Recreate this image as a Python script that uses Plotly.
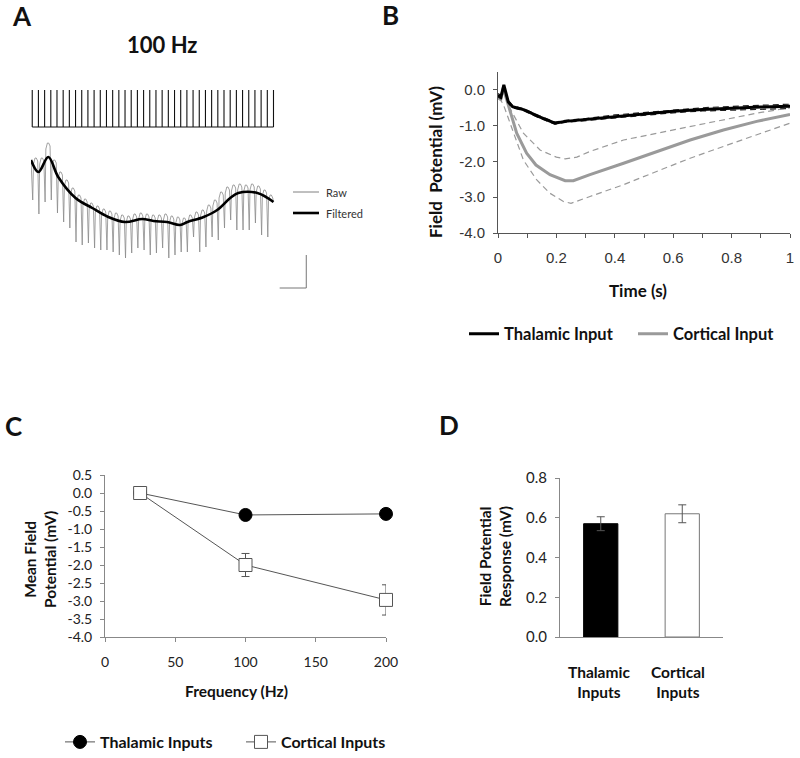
import plotly.graph_objects as go

W, H = 800, 758

# ---------------- Panel A data (time in ms, amplitude in arbitrary units) ----------------
stim_times_ms = [0, 10, 20, 30, 40, 50, 60, 70, 80, 90, 100, 110, 120, 130, 140, 150, 160, 170, 180, 190,
                 200, 210, 220, 230, 240, 250, 260, 270, 280, 290, 300, 310, 320, 330, 340, 350, 360, 370, 380, 390]
spike_times_ms = [0, 10, 20, 30, 40, 50, 60, 70, 80, 90, 100, 110, 120, 130, 140, 150, 160, 170, 180, 190,
                  200, 210, 220, 230, 240, 250, 260, 270, 280, 290, 300, 310, 320, 330, 340, 350, 360, 370, 380]
spike_min = [-40, -54, -42, -40, -53, -62, -68, -82, -85, -83, -88, -90, -90, -92, -95, -98, -93, -88, -90, -95,
             -93, -88, -98, -95, -92, -92, -77, -92, -87, -77, -80, -68, -60, -70, -70, -70, -63, -75, -77]
bump_top = [2, 2, 17, 0, -12, -20, -28, -35, -39, -43, -46, -49, -51, -53, -55, -56, -54, -53, -54, -55,
            -55, -54, -56, -57, -58, -55, -52, -50, -45, -40, -32, -27, -25, -24, -25, -24, -26, -30, -35]
filt_t = [-2, 10, 26, 42, 70, 97, 123, 150, 178, 196, 218, 239, 251, 277, 299, 320, 333, 364, 390]
filt_v = [0, -12, 3, -17, -38, -48, -57, -62, -59, -61, -62, -65, -62, -57, -50, -38, -33, -33, -42]
raw_start = (-2, 0)
scale_bar_ms = 43     # horizontal scale bar length
scale_bar_amp = 33    # vertical scale bar length

# ---------------- Panel B data ----------------
thal_t = [0, 0.01, 0.02, 0.035, 0.05, 0.09, 0.14, 0.195, 0.23, 0.3, 0.4, 0.5, 0.6, 0.7, 0.8, 0.9, 1.0]
thal_mean = [-0.15, -0.2, 0.14, -0.33, -0.47, -0.56, -0.75, -0.93, -0.88, -0.83, -0.74, -0.67, -0.6, -0.55, -0.51, -0.48, -0.46]
thal_upper = [-0.1, -0.15, 0.12, -0.3, -0.44, -0.53, -0.72, -0.9, -0.85, -0.8, -0.7, -0.63, -0.56, -0.5, -0.46, -0.43, -0.40]
thal_lower = [-0.2, -0.25, 0.08, -0.37, -0.5, -0.59, -0.78, -0.96, -0.91, -0.86, -0.78, -0.71, -0.64, -0.59, -0.56, -0.53, -0.52]

cort_t = [0, 0.01, 0.018, 0.034, 0.064, 0.098, 0.13, 0.178, 0.23, 0.258, 0.315, 0.43, 0.543, 0.658, 0.772, 0.886, 1.0]
cort_mean = [-0.2, -0.25, 0.05, -0.4, -1.21, -1.77, -2.1, -2.37, -2.54, -2.54, -2.37, -2.05, -1.72, -1.40, -1.12, -0.88, -0.69]
cort_up_t = [0, 0.01, 0.02, 0.04, 0.087, 0.144, 0.2, 0.23, 0.27, 0.315, 0.43, 0.543, 0.658, 0.772, 0.886, 1.0]
cort_upper = [-0.2, -0.25, 0.0, -0.5, -1.21, -1.68, -1.88, -1.93, -1.88, -1.72, -1.40, -1.21, -1.02, -0.84, -0.65, -0.50]
cort_lo_t = [0, 0.01, 0.018, 0.053, 0.087, 0.132, 0.178, 0.224, 0.25, 0.315, 0.43, 0.543, 0.658, 0.772, 0.886, 1.0]
cort_lower = [-0.25, -0.3, -0.4, -1.21, -1.96, -2.51, -2.89, -3.12, -3.17, -2.98, -2.65, -2.28, -1.91, -1.58, -1.26, -0.93]

b_xticks = [0, 0.2, 0.4, 0.6, 0.8, 1.0]
b_xlabels = ["0", "0.2", "0.4", "0.6", "0.8", "1"]
b_yticks = [0, -1, -2, -3, -4]
b_ylabels = ["0.0", "-1.0", "-2.0", "-3.0", "-4.0"]

# ---------------- Panel C data ----------------
freq_hz = [25, 100, 200]
c_thal = [0.0, -0.61, -0.58]
c_thal_err = [0.03, 0.04, 0.04]
c_cort = [0.0, -2.0, -2.97]
c_cort_err = [0.02, 0.32, 0.42]
c_xticks = [0, 50, 100, 150, 200]
c_yticks = [0.5, 0.0, -0.5, -1.0, -1.5, -2.0, -2.5, -3.0, -3.5, -4.0]
c_ylabels = ["0.5", "0.0", "-0.5", "-1.0", "-1.5", "-2.0", "-2.5", "-3.0", "-3.5", "-4.0"]

# ---------------- Panel D data ----------------
d_categories = ["Thalamic Inputs", "Cortical Inputs"]
d_values = [0.57, 0.62]
d_sem = [0.035, 0.045]
d_yticks = [0.0, 0.2, 0.4, 0.6, 0.8]
d_ylabels = ["0.0", "0.2", "0.4", "0.6", "0.8"]


def px(x):
    return x / W


def py(y):
    return 1 - y / H


CAL = "Lato"
ARIAL = "Liberation Sans"

fig = go.Figure()

# ---------------- Panel A traces ----------------
STIM_TOP, STIM_BASE = 70, 33
sx, sy = [], []
for t in stim_times_ms:
    sx += [t, t, None]
    sy += [STIM_BASE, STIM_TOP, None]
sx += [stim_times_ms[0], stim_times_ms[-1]]
sy += [STIM_BASE, STIM_BASE]
fig.add_trace(go.Scatter(x=sx, y=sy, mode="lines", line=dict(color="#111", width=1.1),
                         xaxis="x", yaxis="y", showlegend=False, hoverinfo="skip"))

raw_t = [raw_start[0]]
raw_v = [raw_start[1]]
for t0, vmin, vb in zip(spike_times_ms, spike_min, bump_top):
    raw_t += [t0 + 0.8, t0 + 2.0, t0 + 4.5, t0 + 6.5, t0 + 8.8]
    raw_v += [vmin, vb - 6, vb, vb, vb - 3]
raw_t += [spike_times_ms[-1] + 9.5]
raw_v += [bump_top[-1] - 6]
fig.add_trace(go.Scatter(x=raw_t, y=raw_v, mode="lines", line=dict(color="#8a8a8a", width=0.8),
                         xaxis="x", yaxis="y", showlegend=False, hoverinfo="skip"))
fig.add_trace(go.Scatter(x=filt_t, y=filt_v, mode="lines", line=dict(color="#000", width=2.6, shape="spline"),
                         xaxis="x", yaxis="y", showlegend=False, hoverinfo="skip"))

# scale bar
SB_T0, SB_V0 = 400, -128
fig.add_trace(go.Scatter(x=[SB_T0, SB_T0 + scale_bar_ms, SB_T0 + scale_bar_ms],
                         y=[SB_V0, SB_V0, SB_V0 + scale_bar_amp],
                         mode="lines", line=dict(color="#777", width=1),
                         xaxis="x", yaxis="y", showlegend=False, hoverinfo="skip"))

# ---------------- Panel B traces ----------------
for tt, vv in [(cort_up_t, cort_upper), (cort_lo_t, cort_lower)]:
    fig.add_trace(go.Scatter(x=tt, y=vv, mode="lines", line=dict(color="#9a9a9a", width=1.2, dash="6px,4px"),
                             xaxis="x2", yaxis="y2", showlegend=False))
fig.add_trace(go.Scatter(x=cort_t, y=cort_mean, mode="lines", line=dict(color="#9a9a9a", width=3),
                         xaxis="x2", yaxis="y2", name="Cortical Input", legend="legend", legendrank=2))
for vv in [thal_upper, thal_lower]:
    fig.add_trace(go.Scatter(x=thal_t, y=vv, mode="lines", line=dict(color="#222", width=1.2, dash="6px,4px"),
                             xaxis="x2", yaxis="y2", showlegend=False))
fig.add_trace(go.Scatter(x=thal_t, y=thal_mean, mode="lines", line=dict(color="#000", width=3),
                         xaxis="x2", yaxis="y2", name="Thalamic Input", legend="legend", legendrank=1))

# ---------------- Panel C traces ----------------
fig.add_trace(go.Scatter(x=freq_hz, y=c_thal, mode="lines+markers", name="Thalamic Inputs",
                         line=dict(color="#555", width=1),
                         marker=dict(symbol="circle", size=13, color="#000", line=dict(color="#000", width=1)),
                         error_y=dict(type="data", array=c_thal_err, color="#555", thickness=1, width=4),
                         xaxis="x3", yaxis="y3", legend="legend2", legendrank=1, cliponaxis=False))
fig.add_trace(go.Scatter(x=freq_hz, y=c_cort, mode="lines+markers", name="Cortical Inputs",
                         line=dict(color="#555", width=1),
                         marker=dict(symbol="square", size=13, color="#fff", line=dict(color="#555", width=1)),
                         error_y=dict(type="data", array=c_cort_err, color="#555", thickness=1, width=4),
                         xaxis="x3", yaxis="y3", legend="legend2", legendrank=2, cliponaxis=False))

# ---------------- Panel D traces ----------------
fig.add_trace(go.Bar(x=d_categories, y=d_values, width=0.42,
                     marker=dict(color=["#000", "#fff"], line=dict(color=["#000", "#777"], width=1)),
                     error_y=dict(type="data", array=d_sem, color="#555", thickness=1, width=4),
                     xaxis="x4", yaxis="y4", showlegend=False))

# ---------------- Axes ----------------
A_PX_PER_MS = 0.6186
A_X0_PX = 31
A_RANGE = [-2, 470]
hidden = dict(visible=False, showgrid=False, zeroline=False, fixedrange=True, automargin=False)
common = dict(showline=True, linewidth=1, showgrid=False, zeroline=False, automargin=False,
              ticks="outside", ticklen=4)

tick_b = dict(family=ARIAL, size=15, color="#333")
tick_c = dict(family=CAL, size=14, color="#222")

fig.update_layout(
    template="none",
    width=W, height=H, margin=dict(l=0, r=0, t=0, b=0, pad=0, autoexpand=False),
    paper_bgcolor="white", plot_bgcolor="white",
    showlegend=True,
    xaxis=dict(domain=[px(A_X0_PX), px(A_X0_PX + (A_RANGE[1] - A_RANGE[0]) * A_PX_PER_MS)],
               range=A_RANGE, anchor="y", **hidden),
    yaxis=dict(domain=[py(295), py(85)], range=[-135, 75], anchor="x", **hidden),
    xaxis2=dict(domain=[px(498), px(790)], range=[0, 1], anchor="y2", linecolor="#555", tickcolor="#555",
                tickvals=b_xticks, ticktext=b_xlabels,
                minor=dict(ticks="outside", dtick=0.1, tick0=0, ticklen=4, tickcolor="#555", showgrid=False),
                tickfont=tick_b, ticklabelstandoff=7, **common),
    yaxis2=dict(domain=[py(233), py(72)], range=[-4, 0.5], anchor="x2", linecolor="#555", tickcolor="#555",
                tickvals=b_yticks, ticktext=b_ylabels, tickfont=tick_b, ticklabelstandoff=5, **common),
    xaxis3=dict(domain=[px(105), px(386)], range=[0, 200], anchor="y3", linecolor="#888", tickcolor="#888",
                tickvals=c_xticks, tickfont=tick_c, ticklabelstandoff=8, **common),
    yaxis3=dict(domain=[py(637), py(475)], range=[-4, 0.5], anchor="x3", linecolor="#888", tickcolor="#888",
                tickvals=c_yticks, ticktext=c_ylabels, tickfont=tick_c, ticklabelstandoff=5, **common),
    xaxis4=dict(domain=[px(560), px(723)], type="category", anchor="y4",
                showline=True, linecolor="#888", linewidth=1, showgrid=False, zeroline=False,
                showticklabels=False, ticks="", automargin=False),
    yaxis4=dict(domain=[py(637), py(478)], range=[0, 0.8], anchor="x4", linecolor="#888", tickcolor="#888",
                tickvals=d_yticks, ticktext=d_ylabels,
                tickfont=dict(family=CAL, size=15, color="#222"), ticklabelstandoff=5, **common),
    legend=dict(x=px(464), y=py(334), xanchor="left", yanchor="middle", orientation="h",
                font=dict(family=CAL, size=16.5, color="#111", weight="bold"),
                bgcolor="rgba(0,0,0,0)", borderwidth=0, itemwidth=30, entrywidth=124, traceorder="normal"),
    legend2=dict(x=px(60), y=py(742), xanchor="left", yanchor="middle", orientation="h",
                 font=dict(family=CAL, size=16, color="#111", weight="bold"),
                 bgcolor="rgba(0,0,0,0)", borderwidth=0, itemwidth=30, entrywidth=136, traceorder="normal"),
    bargap=0.58,
)

# ---------------- Annotations ----------------
ann = []


def text(x, y, s, size=15, bold=True, angle=0, family=CAL, color="#111", xanchor="center"):
    ann.append(dict(x=px(x), y=py(y), xref="paper", yref="paper", text=s, showarrow=False,
                    textangle=angle, xanchor=xanchor, yanchor="middle",
                    font=dict(family=family, size=size, color=color, weight="bold" if bold else "normal")))


text(22, 16, "A", size=26)
text(390, 15, "B", size=26)
text(13, 426, "C", size=26)
text(449, 425, "D", size=26)
text(162, 44, "100 Hz", size=22)
text(324, 192, "Raw", size=11, bold=False, color="#333", xanchor="left")
text(324, 213, "Filtered", size=11, bold=False, color="#333", xanchor="left")
text(638, 291, "Time (s)", size=17)
text(435, 162, "Field  Potential (mV)", size=17, angle=-90)
text(236, 691, "Frequency (Hz)", size=15.5)
text(40, 560, "Mean Field<br>Potential (mV)", size=15.5, angle=-90)
text(495, 557, "Field Potential<br>Response (mV)", size=15.5, angle=-90)
text(599, 682, "Thalamic<br>Inputs", size=15.5)
text(678, 682, "Cortical<br>Inputs", size=15.5)

shapes = [
    dict(type="line", xref="paper", yref="paper", x0=px(293), x1=px(319), y0=py(192), y1=py(192),
         line=dict(color="#808080", width=1)),
    dict(type="line", xref="paper", yref="paper", x0=px(293), x1=px(319), y0=py(213), y1=py(213),
         line=dict(color="#000", width=2.6)),
]
fig.update_layout(annotations=ann, shapes=shapes)

# place the figure at the page origin (no default body margin), no toolbar
fig.write_html("out.html", config={"displayModeBar": False},
               post_script="document.body.style.margin='0px';")
